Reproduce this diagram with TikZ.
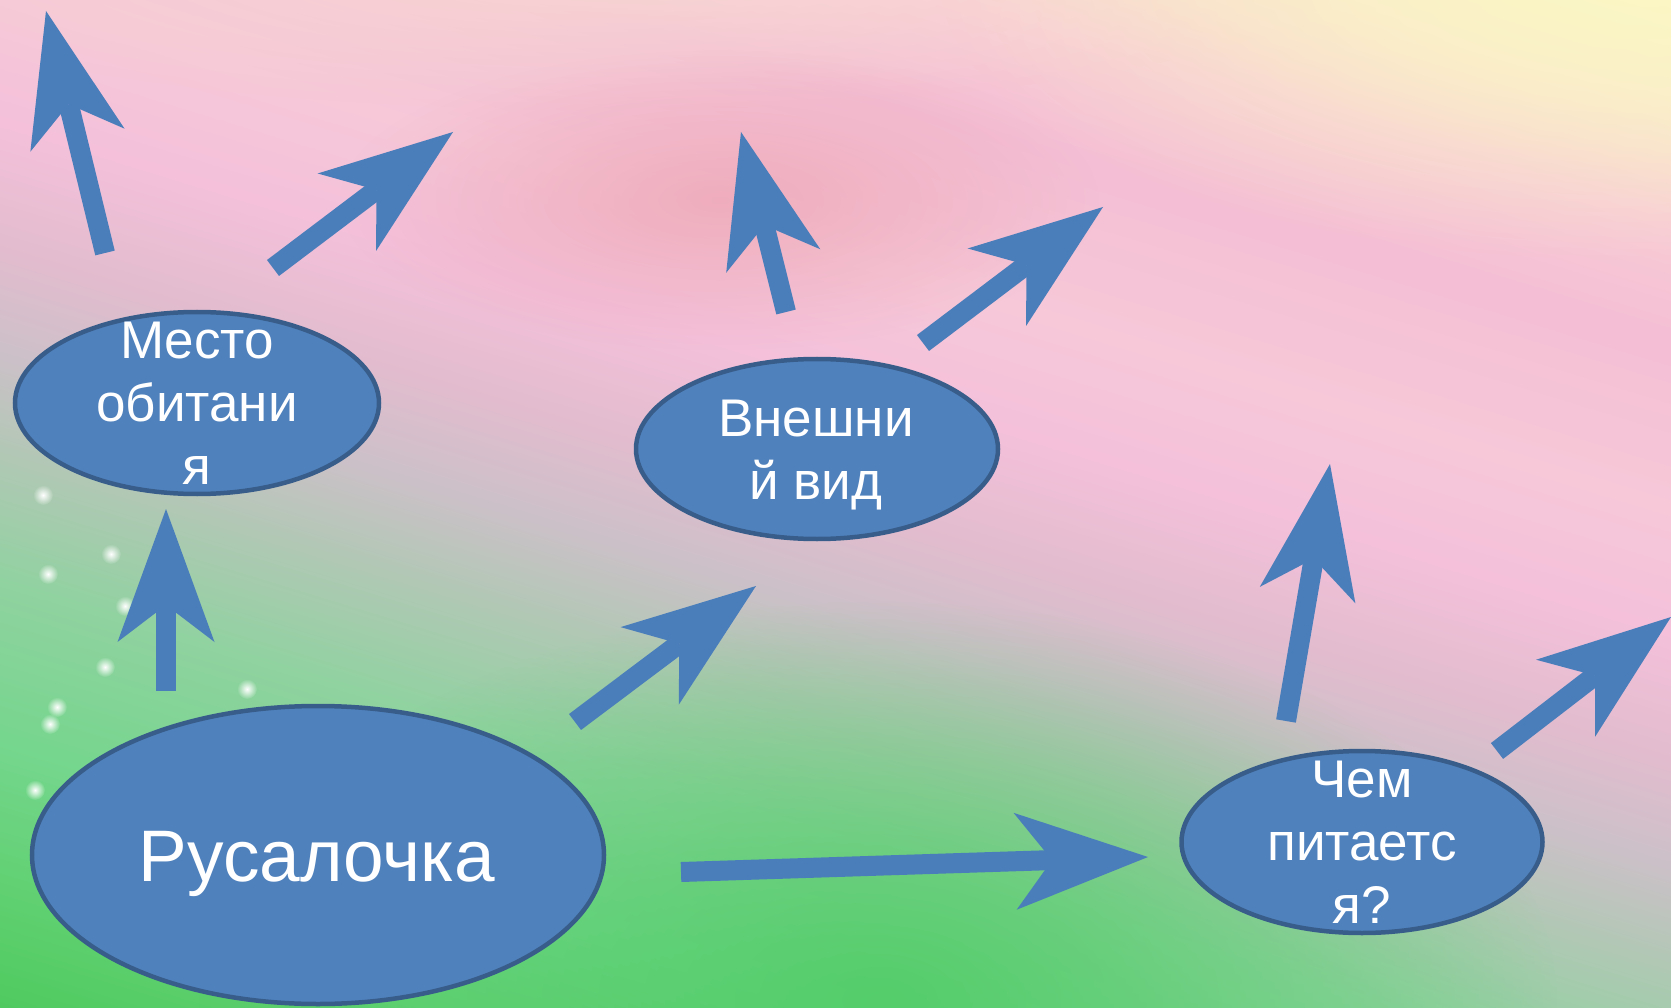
\documentclass[tikz,border=0pt]{standalone}
\usepackage{fontspec}
\setmainfont{Liberation Sans}
\usetikzlibrary{shapes.geometric, arrows.meta, fadings}

\definecolor{ovalfill}{HTML}{4F81BD}
\definecolor{ovalline}{HTML}{385D8A}
\definecolor{arrowblue}{HTML}{4A7EBB}
\definecolor{rosefog}{HTML}{EDA6B6}
\definecolor{grassfog}{HTML}{4ECC64}
\definecolor{peachfog}{HTML}{F8DCD2}
\definecolor{sunfog}{HTML}{FBF7C4}

% background colours, from the meadow up to the sky
\definecolor{bgA}{HTML}{44C655}
\definecolor{bgB}{HTML}{5CCF6C}
\definecolor{bgC}{HTML}{74D68C}
\definecolor{bgD}{HTML}{90D2A0}
\definecolor{bgE}{HTML}{B0C8B4}
\definecolor{bgF}{HTML}{CCC0C8}
\definecolor{bgG}{HTML}{E2BCCE}
\definecolor{bgH}{HTML}{F4C0DA}
\definecolor{bgI}{HTML}{F6C8D8}
\definecolor{bgJ}{HTML}{F4BED4}
\definecolor{bgK}{HTML}{F8CCD6}
\definecolor{bgL}{HTML}{FAE6CE}
\definecolor{bgM}{HTML}{FBF6C8}

\pgfdeclareverticalshading{meadow}{100bp}{color(0bp)=(bgA); color(30bp)=(bgA);
  color(34bp)=(bgB); color(38bp)=(bgC); color(42bp)=(bgD); color(45bp)=(bgE);
  color(47.5bp)=(bgF); color(50bp)=(bgG); color(53bp)=(bgH); color(56bp)=(bgI);
  color(60bp)=(bgJ); color(63bp)=(bgK); color(66bp)=(bgL); color(69bp)=(bgM);
  color(100bp)=(bgM)}

\tikzfading[name=softglow, inner color=transparent!0, outer color=transparent!100]

\begin{document}
\begin{tikzpicture}[x=1pt, y=-1pt,
        oval/.style={ellipse, draw=ovalline, fill=ovalfill, line width=4.5pt, inner sep=0pt},
        ovaltext/.style={text=white, align=center, font=\fontsize{53}{63}\selectfont},
        bigarrow/.style={draw=arrowblue, line width=20pt,
            -{Stealth[length=133pt, width=97pt, inset=37pt, line width=0pt]}},
        fog/.style={path fading=softglow, fill opacity=#1},
        sparkle/.style={fill=white, path fading=softglow}]

            % Background
            \useasboundingbox (0,0) rectangle (1671,1008);
            \begin{scope}
                \clip (0,0) rectangle (1671,1008);
                \begin{scope}[transform canvas={rotate around={-17:(835.5,504)}}]
                    \shade[shading=meadow] (-164.5,-496) rectangle (1835.5,1504);
                \end{scope}
                \fill[grassfog, fog=0.85] (880,1000) ellipse (680 and 400);
                \fill[peachfog, fog=0.8] (600,-30) ellipse (750 and 140);
                \fill[sunfog, fog=0.95] (1640,-20) ellipse (700 and 280);
                \fill[rosefog, fog=0.8] (720,200) ellipse (380 and 150);
                \foreach \sx/\sy in {43/495, 111/554, 48/574, 125/606, 105/667, 57/707, 50/724, 247/689, 35/790}
                    \fill[sparkle] (\sx,\sy) circle (10);
            \end{scope}

            % Ovals
            \node[oval, minimum width=364pt, minimum height=182pt] (habitat) at (197,403) {};
            \node[oval, minimum width=362pt, minimum height=180pt] (looks) at (817,449) {};
            \node[oval, minimum width=572pt, minimum height=298pt] (mermaid) at (318,855) {};
            \node[oval, minimum width=361pt, minimum height=182pt] (food) at (1362,842) {};

            % Texts
            \node[ovaltext] (habitat-text) at (197,403) {Место\\обитани\\я};
            \node[ovaltext] (looks-text) at (816,455) {Внешни\\й вид};
            \node[ovaltext, font=\fontsize{73}{80}\selectfont] (mermaid-text) at (317,864) {Русалочка};
            \node[ovaltext] (food-text) at (1362,842) {Чем\\питаетс\\я?};

            % Arrow ends
            \coordinate (habitat-up-tail) at (105,253);
            \coordinate (habitat-up-tip) at (46,11);
            \coordinate (habitat-side-tail) at (273,268);
            \coordinate (habitat-side-tip) at (453,132);
            \coordinate (looks-up-tail) at (786,312);
            \coordinate (looks-up-tip) at (741,132);
            \coordinate (looks-side-tail) at (923,343);
            \coordinate (looks-side-tip) at (1103,207);
            \coordinate (mermaid-up-tail) at (166,691);
            \coordinate (mermaid-up-tip) at (166,509);
            \coordinate (mermaid-side-tail) at (575,722);
            \coordinate (mermaid-side-tip) at (756,586);
            \coordinate (mermaid-right-tail) at (681,872);
            \coordinate (mermaid-right-tip) at (1148,857);
            \coordinate (food-up-tail) at (1286,721);
            \coordinate (food-up-tip) at (1330,464);
            \coordinate (food-side-tail) at (1497,751);
            \coordinate (food-side-tip) at (1671,617);

            % Arrows
            \draw[bigarrow] (habitat-up-tail) -- (habitat-up-tip);
            \draw[bigarrow] (habitat-side-tail) -- (habitat-side-tip);
            \draw[bigarrow] (looks-up-tail) -- (looks-up-tip);
            \draw[bigarrow] (looks-side-tail) -- (looks-side-tip);
            \draw[bigarrow] (mermaid-up-tail) -- (mermaid-up-tip);
            \draw[bigarrow] (mermaid-side-tail) -- (mermaid-side-tip);
            \draw[bigarrow] (mermaid-right-tail) -- (mermaid-right-tip);
            \draw[bigarrow] (food-up-tail) -- (food-up-tip);
            \draw[bigarrow] (food-side-tail) -- (food-side-tip);
    \end{tikzpicture}
\end{document}
